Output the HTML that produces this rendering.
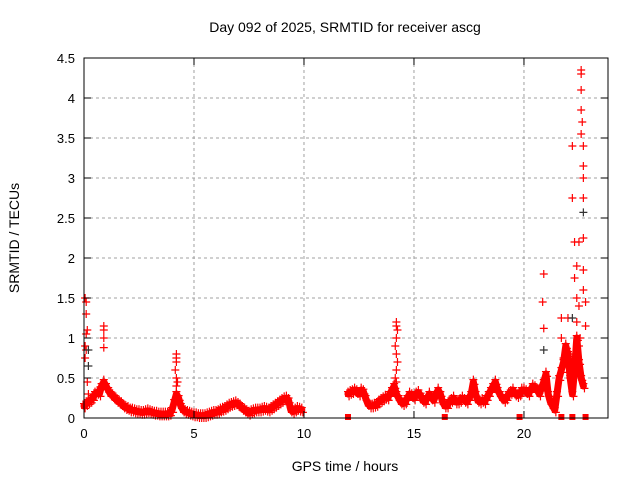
<!DOCTYPE html>
<html><head><meta charset="utf-8"><style>
body{margin:0;background:#fff;}
svg{display:block;font-family:"Liberation Sans",Arial,sans-serif;}
</style></head><body>
<svg id="chart" width="640" height="480">
<text x="345" y="32" text-anchor="middle" font-size="14">Day 092 of 2025, SRMTID for receiver ascg</text>
<text x="345" y="471" text-anchor="middle" font-size="14">GPS time / hours</text>
<text transform="translate(19,238) rotate(-90)" text-anchor="middle" font-size="14">SRMTID / TECUs</text>
<g id="grid"></g><g id="marks"></g><g id="axes"></g>
</svg>
<script>
const xTicks=[0,5,10,15,20];
const yTicks=[0,0.5,1,1.5,2,2.5,3,3.5,4,4.5];
const yTickLabels=["0","0.5","1","1.5","2","2.5","3","3.5","4","4.5"];
const baseStart1=0, baseStart2=12, baseStep=0.1;
const base1=[0.15,0.18,0.2,0.22,0.25,0.3,0.32,0.3,0.4,0.45,
0.4,0.35,0.3,0.28,0.25,0.22,0.2,0.18,0.15,0.13,
0.12,0.1,0.1,0.09,0.08,0.08,0.07,0.07,0.08,0.09,
0.08,0.07,0.06,0.06,0.05,0.05,0.05,0.05,0.05,0.06,
0.1,0.2,0.3,0.25,0.15,0.1,0.08,0.07,0.06,0.05,
0.04,0.04,0.03,0.03,0.03,0.03,0.04,0.05,0.06,0.07,
0.07,0.08,0.1,0.11,0.12,0.14,0.16,0.17,0.18,0.19,
0.17,0.15,0.12,0.1,0.08,0.06,0.08,0.09,0.1,0.1,
0.1,0.11,0.12,0.11,0.1,0.12,0.14,0.16,0.18,0.2,
0.22,0.24,0.25,0.22,0.1,0.08,0.1,0.12,0.11,0.1];
const base2=[0.3,0.32,0.33,0.35,0.33,0.3,0.35,0.33,0.25,0.18,
0.15,0.15,0.16,0.17,0.2,0.22,0.24,0.26,0.25,0.3,
0.35,0.4,0.3,0.25,0.2,0.18,0.2,0.25,0.3,0.28,
0.25,0.3,0.32,0.28,0.22,0.2,0.25,0.3,0.25,0.22,
0.3,0.35,0.3,0.2,0.15,0.15,0.2,0.22,0.25,0.2,
0.2,0.22,0.25,0.22,0.2,0.25,0.3,0.45,0.3,0.22,
0.2,0.22,0.2,0.25,0.3,0.35,0.4,0.45,0.35,0.3,
0.25,0.22,0.25,0.3,0.32,0.35,0.3,0.28,0.3,0.35,
0.35,0.33,0.3,0.35,0.4,0.38,0.35,0.3,0.38,0.45,
0.55,0.3,0.2,0.15,0.1,0.3,0.5,0.6,0.7,0.9,
0.8,0.5,0.3,0.6,1.0,0.7,0.5,0.4];
const spikeT=[0.05,0.1,0.1,0.15,0.1,0.05,0.1,0.05,0.15,0.2,0.9,0.9,0.9,0.9,4.2,4.2,4.2,4.15,4.2,4.25,4.2,
14.2,14.2,14.25,14.2,14.15,14.2,14.25,14.2,14.15,14.2,20.9,20.85,20.9,
22.2,22.2,22.3,22.3,22.4,22.4,22.5,22.5,22.6,22.6,22.6,22.6,22.65,22.6,22.7,22.7,22.7,22.7,22.7,22.7,22.7,22.8,22.8,
21.7,21.7,21.8,22.0,22.1,22.4,22.5,22.3,22.45,22.55];
const spikeV=[1.5,1.45,1.3,1.1,1.05,0.9,0.85,0.75,0.45,0.3,1.15,1.1,1.0,0.88,0.8,0.75,0.7,0.6,0.5,0.45,0.4,
1.2,1.15,1.1,1.0,0.9,0.8,0.7,0.6,0.5,0.45,1.8,1.45,1.12,
3.4,2.75,2.2,1.75,1.5,1.9,2.2,1.4,4.35,4.3,4.1,3.85,3.7,3.55,3.4,3.15,3.0,2.75,2.25,1.85,1.6,1.45,1.15,
1.25,1.0,0.75,1.25,0.5,1.2,0.9,0.8,0.6,1.0];
const zeroT=[12.0,16.4,19.8,21.7,22.2,22.8];
const blackT=[0.2,0.2,20.9,22.2,22.7];
const blackV=[0.85,0.65,0.85,1.25,2.57];
const L=84,R=608,T=58,B=418,XMAX=23.82,YMAX=4.5;
const sx=t=>L+t/XMAX*(R-L), sy=v=>B-v/YMAX*(B-T);
const NS="http://www.w3.org/2000/svg";
function mk(tag,attrs,parent){const e=document.createElementNS(NS,tag);for(const k in attrs)e.setAttribute(k,attrs[k]);parent.appendChild(e);return e;}
const grid=document.getElementById('grid'),marks=document.getElementById('marks'),axes=document.getElementById('axes');
yTicks.forEach((v,i)=>{const y=sy(v);
 if(i>0&&i<yTicks.length-1){const g=mk('line',{x1:L,x2:R,y1:y,y2:y,stroke:'#a0a0a0','stroke-dasharray':'3,3'},grid);
 
 }
 mk('line',{x1:L,x2:L+7,y1:y,y2:y,stroke:'#000'},axes);mk('line',{x1:R,x2:R-7,y1:y,y2:y,stroke:'#000'},axes);
 const t=mk('text',{x:L-9,y:y+5,'text-anchor':'end','font-size':13},axes);t.textContent=yTickLabels[i];
 
 });
xTicks.forEach(v=>{const x=sx(v);
 if(v>0){const g=mk('line',{x1:x,x2:x,y1:T,y2:B,stroke:'#a0a0a0','stroke-dasharray':'3,3'},grid);
 
 }
 mk('line',{x1:x,x2:x,y1:B,y2:B-7,stroke:'#000'},axes);mk('line',{x1:x,x2:x,y1:T,y2:T+7,stroke:'#000'},axes);
 const t=mk('text',{x:x,y:B+20,'text-anchor':'middle','font-size':13},axes);t.textContent=String(v);
 
 });
const frame=mk('rect',{x:L,y:T,width:R-L,height:B-T,fill:'none',stroke:'#000'},axes);


function plus(t,v,col,name){const x=sx(t),y=sy(v);
 const p=mk('path',{d:`M${x-4},${y}h8M${x},${y-4}v8`,stroke:col,'stroke-width':1.2,fill:'none'},marks);
 
 }
function band(arr,start,name){let d='';arr.forEach((v,i)=>{d+=(i?'L':'M')+sx(start+i*baseStep)+','+sy(v);});
 const p=mk('path',{d:d,stroke:'#ff0000','stroke-width':7,fill:'none','stroke-linejoin':'round','stroke-linecap':'round'},marks);
 
 
 arr.forEach((v,i)=>{plus(start+i*baseStep,v+0.03,'#ff0000','srmtid-point');plus(start+i*baseStep+0.05,v-0.03,'#ff0000','srmtid-point');});}
band(base1,baseStart1,'srmtid-band-early');
band(base2,baseStart2,'srmtid-band-late');
spikeT.forEach((t,i)=>plus(t,spikeV[i],'#ff0000','srmtid-spike-point'));
blackT.forEach((t,i)=>plus(t,blackV[i],'#333','secondary-point'));
zeroT.forEach(t=>{const r=mk('rect',{x:sx(t)-3,y:sy(0)-4,width:6,height:6,fill:'#ff0000'},marks);
 
 });
</script>
</body></html>
